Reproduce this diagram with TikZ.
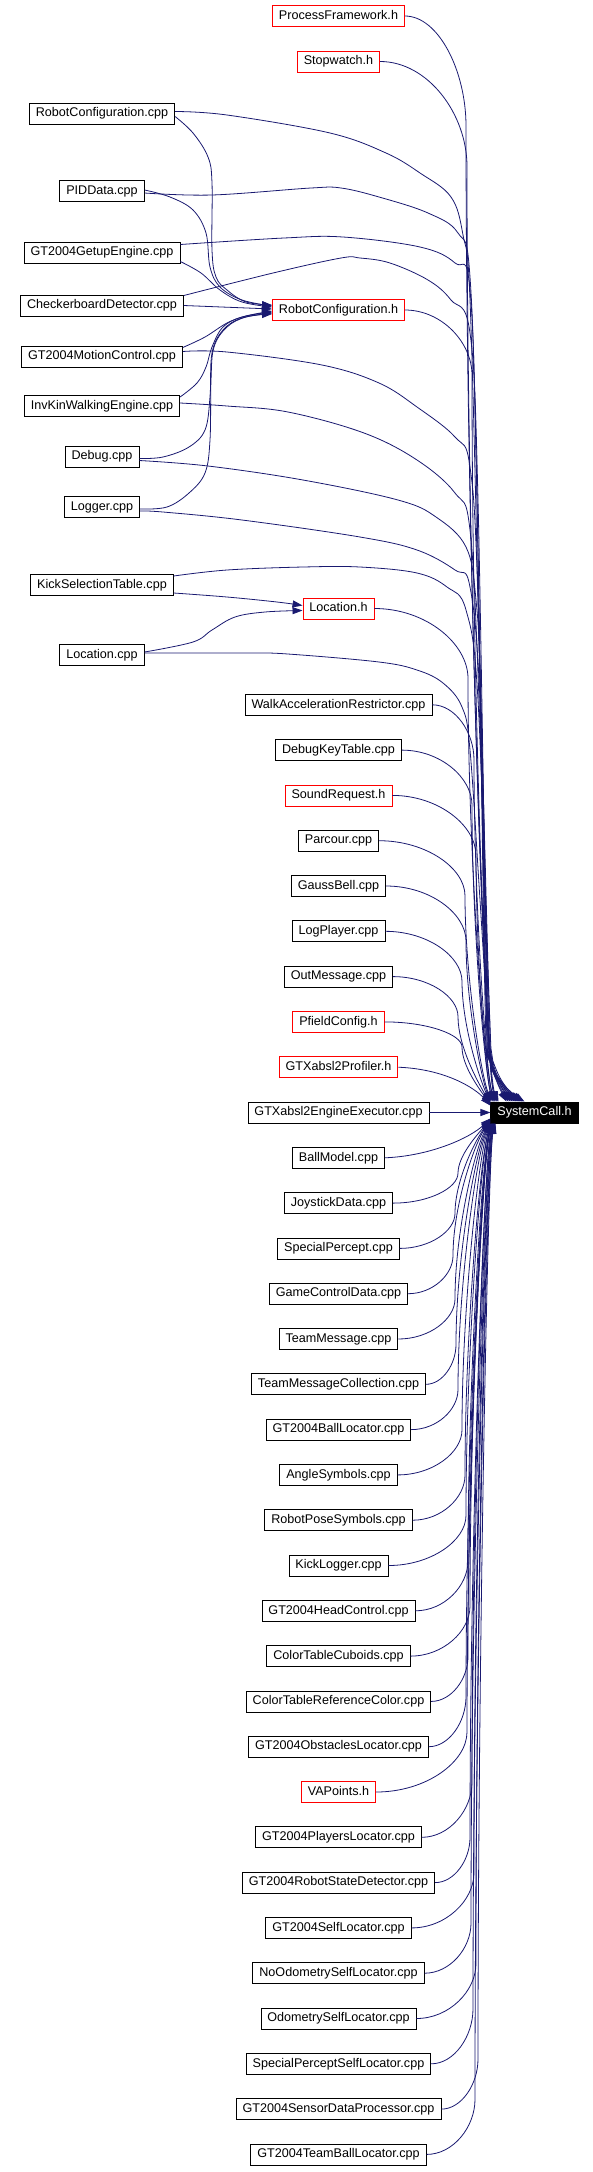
\documentclass[tikz,border=0pt]{standalone}
\usepackage{fontspec}
\setmainfont{Liberation Sans}
\usetikzlibrary{arrows.meta,calc}
\definecolor{mblue}{HTML}{191970}
\newcommand\dedge[5]{%
  \draw[dep] let \p1=(#1.east), \p2=(#2) in
  (\p1) .. controls ({\x1+0.55*(#3-\x1)},\y1) and (#3,{\y1-0.5*#4}) .. (#3,{\y1-#4})
  .. controls (#3,{\y1-#4-0.45*(\y1-#4-(\y2)-#5)}) and ({\x2-0.4*(\x2-#3)},{\y2+#5}) .. (\p2);}
\newcommand\uedge[5]{%
  \draw[dep] let \p1=(#1.east), \p2=(#2) in
  (\p1) .. controls ({\x1+0.55*(#3-\x1)},\y1) and (#3,{\y1+0.5*#4}) .. (#3,{\y1+#4})
  .. controls (#3,{\y1+#4+0.45*((\y2)-#5-(\y1)-#4)}) and ({\x2-0.4*(\x2-#3)},{\y2-#5}) .. (\p2);}
\begin{document}
\begin{tikzpicture}[x=1pt,y=1pt,
  dep/.style={draw=mblue, line width=0.8pt, -{Triangle[length=10pt,width=7pt]}},
  nd/.style={draw=black, fill=white, line width=0.8pt, inner xsep=6.5pt, inner ysep=0pt,
    minimum height=21pt, text height=9.1pt, text depth=2.6pt, font=\fontsize{12.6}{14}\selectfont},
  hd/.style={nd, draw=red}]
\useasboundingbox (0,0) rectangle (593,-2172);
% rank 0
\node[nd] (rcpp) at (102,-113.5) {RobotConfiguration.cpp};
\node[nd] (pid) at (102,-191) {PIDData.cpp};
\node[nd] (getup) at (102,-252.5) {GT2004GetupEngine.cpp};
\node[nd] (cb) at (102,-305.5) {CheckerboardDetector.cpp};
\node[nd] (mc) at (102,-356.5) {GT2004MotionControl.cpp};
\node[nd] (ik) at (102,-406) {InvKinWalkingEngine.cpp};
\node[nd] (dbg) at (102,-456.5) {Debug.cpp};
\node[nd] (lg) at (102,-507) {Logger.cpp};
\node[nd] (kick) at (102,-585) {KickSelectionTable.cpp};
\node[nd] (lcpp) at (102,-655) {Location.cpp};
% rank 1
\node[hd] (pf) at (338.5,-16) {ProcessFramework.h};
\node[hd] (sw) at (338.5,-61.5) {Stopwatch.h};
\node[hd] (rch) at (338.5,-310) {RobotConfiguration.h};
\node[hd] (lh) at (338.5,-608.5) {Location.h};
\node[nd] (war) at (338.5,-704.8) {WalkAccelerationRestrictor.cpp};
\node[nd] (dkt) at (338.5,-750.1) {DebugKeyTable.cpp};
\node[hd] (sr) at (338.5,-795.4) {SoundRequest.h};
\node[nd] (par) at (338.5,-840.7) {Parcour.cpp};
\node[nd] (gb) at (338.5,-886.0) {GaussBell.cpp};
\node[nd] (lp) at (338.5,-931.3) {LogPlayer.cpp};
\node[nd] (om) at (338.5,-976.6) {OutMessage.cpp};
\node[hd] (pfc) at (338.5,-1021.9) {PfieldConfig.h};
\node[hd] (prof) at (338.5,-1067.2) {GTXabsl2Profiler.h};
\node[nd] (exec) at (338.5,-1112.5) {GTXabsl2EngineExecutor.cpp};
\node[nd] (bm) at (338.5,-1157.8) {BallModel.cpp};
\node[nd] (jd) at (338.5,-1203.1) {JoystickData.cpp};
\node[nd] (sp) at (338.5,-1248.4) {SpecialPercept.cpp};
\node[nd] (gcd) at (338.5,-1293.7) {GameControlData.cpp};
\node[nd] (tm) at (338.5,-1339.0) {TeamMessage.cpp};
\node[nd] (tmc) at (338.5,-1384.3) {TeamMessageCollection.cpp};
\node[nd] (gbl) at (338.5,-1429.6) {GT2004BallLocator.cpp};
\node[nd] (angs) at (338.5,-1474.9) {AngleSymbols.cpp};
\node[nd] (rps) at (338.5,-1520.2) {RobotPoseSymbols.cpp};
\node[nd] (kl) at (338.5,-1565.5) {KickLogger.cpp};
\node[nd] (ghc) at (338.5,-1610.8) {GT2004HeadControl.cpp};
\node[nd] (ctc) at (338.5,-1656.1) {ColorTableCuboids.cpp};
\node[nd] (ctr) at (338.5,-1701.4) {ColorTableReferenceColor.cpp};
\node[nd] (gol) at (338.5,-1746.7) {GT2004ObstaclesLocator.cpp};
\node[hd] (vap) at (338.5,-1792.0) {VAPoints.h};
\node[nd] (gpl) at (338.5,-1837.3) {GT2004PlayersLocator.cpp};
\node[nd] (grs) at (338.5,-1882.6) {GT2004RobotStateDetector.cpp};
\node[nd] (gsl) at (338.5,-1927.9) {GT2004SelfLocator.cpp};
\node[nd] (nos) at (338.5,-1973.2) {NoOdometrySelfLocator.cpp};
\node[nd] (osl) at (338.5,-2018.5) {OdometrySelfLocator.cpp};
\node[nd] (spsl) at (338.5,-2063.8) {SpecialPerceptSelfLocator.cpp};
\node[nd] (gsdp) at (338.5,-2109.1) {GT2004SensorDataProcessor.cpp};
\node[nd] (gtbl) at (338.5,-2154.4) {GT2004TeamBallLocator.cpp};
% rank 2
\node[nd, fill=black, text=white] (sc) at (534.5,-1112.5) {SystemCall.h};

% rank 0 -> RobotConfiguration.h
\draw[dep] plot[smooth,tension=0.6] coordinates {([yshift=-3pt]rcpp.east) (193,-133) (208,-157) (212,-183) (212,-250) (216,-277) (227,-290) (246,-302) ([yshift=5pt]rch.west)};
\draw[dep] plot[smooth,tension=0.6] coordinates {([yshift=1pt]pid.east) (170,-197) (193,-210) (206,-233) (210,-267) (220,-287) (242,-300) ([yshift=4pt]rch.west)};
\draw[dep] plot[smooth,tension=0.6] coordinates {([yshift=-9pt]getup.east) (201,-273) (220,-290) (242,-302) ([yshift=3pt]rch.west)};
\draw[dep] (cb.east) -- ([yshift=1pt]rch.west);
\draw[dep] plot[smooth,tension=0.6] coordinates {([yshift=9pt]mc.east) (205,-337) (227,-323) (246,-316) ([yshift=-1pt]rch.west)};
\draw[dep] plot[smooth,tension=0.6] coordinates {([yshift=9pt]ik.east) (197,-383) (206,-367) (212,-347) (223,-327) (242,-317) ([yshift=-2pt]rch.west)};
\draw[dep] plot[smooth,tension=0.6] coordinates {([yshift=-2pt]dbg.east) (163,-457) (189,-447) (205,-430) (210,-397) (212,-353) (223,-330) (242,-318) ([yshift=-3pt]rch.west)};
\draw[dep] plot[smooth,tension=0.6] coordinates {([yshift=-2pt]lg.east) (167,-507) (189,-493) (205,-473) (210,-440) (211,-380) (214,-347) (227,-327) (246,-317) ([yshift=-4pt]rch.west)};
% rank 0 -> Location.h
\draw[dep] plot[smooth,tension=0.6] coordinates {([yshift=-8pt]kick.east) (227,-597) (277,-602) ([yshift=3pt]lh.west)};
\draw[dep] plot[smooth,tension=0.6] coordinates {([yshift=3pt]lcpp.east) (193,-642) (212,-630) (235,-617) (265,-612) ([yshift=-2pt]lh.west)};
% rank 0 -> SystemCall.h
\draw[dep] plot[smooth,tension=0.6] coordinates {([yshift=2pt]rcpp.east) (227,-115) (330,-133) (386,-153) (420,-173) (451,-197) (463,-235) (470,-300) (478,-600) (486,-1000) (489,-1055) (497,-1082) ([xshift=16pt]sc.north west)};
\draw[dep] plot[smooth,tension=0.6] coordinates {([yshift=-2pt]pid.east) (212,-195) (311,-188) (341,-188) (379,-197) (428,-213) (458,-233) (470,-277) (477,-500) (485,-1000) (489,-1057) (498,-1083) ([xshift=18pt]sc.north west)};
\draw[dep] plot[smooth,tension=0.6] coordinates {([yshift=8pt]getup.east) (284,-238) (343,-237) (420,-247) (455,-263) (470,-290) (477,-500) (486,-1000) (490,-1058) (499,-1083) ([xshift=20pt]sc.north west)};
\draw[dep] plot[smooth,tension=0.6] coordinates {([yshift=10pt]cb.east) (273,-273) (341,-258) (360,-258) (390,-263) (428,-280) (451,-300) (470,-333) (478,-500) (487,-1000) (490,-1059) (500,-1084) ([xshift=22pt]sc.north west)};
\draw[dep] plot[smooth,tension=0.6] coordinates {([yshift=5pt]mc.east) (227,-352) (322,-365) (379,-383) (417,-407) (455,-437) (470,-467) (478,-600) (487,-1000) (491,-1060) (501,-1084) ([xshift=24pt]sc.north west)};
\draw[dep] plot[smooth,tension=0.6] coordinates {([yshift=3pt]ik.east) (227,-406) (288,-412) (364,-433) (417,-460) (455,-493) (470,-530) (479,-700) (488,-1000) (491,-1060) (502,-1085) ([xshift=26pt]sc.north west)};
\draw[dep] plot[smooth,tension=0.6] coordinates {([yshift=-4pt]dbg.east) (208,-466) (303,-480) (398,-500) (436,-517) (466,-547) (476,-600) (481,-700) (488,-1000) (492,-1061) (503,-1085) ([xshift=28pt]sc.north west)};
\draw[dep] plot[smooth,tension=0.6] coordinates {([yshift=-4pt]lg.east) (163,-512) (242,-520) (360,-537) (417,-550) (455,-570) (470,-587) (480,-700) (489,-1000) (492,-1062) (504,-1086) ([xshift=30pt]sc.north west)};
\draw[dep] plot[smooth,tension=0.6] coordinates {([yshift=9pt]kick.east) (227,-570) (303,-567) (360,-567) (417,-573) (447,-587) (466,-610) (478,-700) (489,-1000) (493,-1062) (505,-1086) ([xshift=32pt]sc.north west)};
\draw[dep] plot[smooth,tension=0.6] coordinates {([yshift=2pt]lcpp.east) (182,-653) (250,-653) (288,-654) (379,-662) (417,-670) (443,-683) (462,-707) (470,-750) (480,-900) (489,-1040) (494,-1064) (506,-1087) ([xshift=34pt]sc.north west)};
% rank 1 above -> SystemCall.h
\dedge{pf}{[xshift=8pt]sc.north west}{466}{110}{30}
\dedge{sw}{[xshift=7pt]sc.north west}{467}{105}{30}
\dedge{rch}{[xshift=6pt]sc.north west}{472}{65}{30}
\dedge{lh}{[xshift=5pt]sc.north west}{468}{70}{30}
\dedge{war}{[xshift=4pt]sc.north west}{474}{55}{28}
\dedge{dkt}{[xshift=3pt]sc.north west}{472}{55}{28}
\dedge{sr}{[xshift=2pt]sc.north west}{476}{60}{28}
\dedge{par}{[xshift=1pt]sc.north west}{465}{55}{28}
\dedge{gb}{sc.north west}{466}{55}{26}
\dedge{lp}{[yshift=-1pt]sc.north west}{462}{50}{25}
\dedge{om}{[yshift=-2pt]sc.north west}{458}{40}{22}
\dedge{pfc}{[yshift=-3pt]sc.north west}{462}{25}{16}
\draw[dep] (prof.east) .. controls (445,-1069) and (475,-1088) .. ([yshift=-4pt]sc.north west);
\draw[dep] (exec.east) -- (sc.west);
% rank 1 below -> SystemCall.h
\draw[dep] (bm.east) .. controls (430,-1156) and (470,-1138) .. ([yshift=5pt]sc.south west);
\uedge{jd}{[yshift=4pt]sc.south west}{458}{30}{15}
\uedge{sp}{[yshift=3pt]sc.south west}{455}{35}{18}
\uedge{gcd}{[yshift=2pt]sc.south west}{453}{38}{20}
\uedge{tm}{[yshift=1pt]sc.south west}{455}{40}{22}
\uedge{tmc}{sc.south west}{456}{40}{24}
\uedge{gbl}{[xshift=0.5pt]sc.south west}{458}{40}{25}
\uedge{angs}{[xshift=1pt]sc.south west}{462}{45}{25}
\uedge{rps}{[xshift=1.5pt]sc.south west}{465}{45}{26}
\uedge{kl}{[xshift=1.5pt]sc.south west}{466}{50}{26}
\uedge{ghc}{[xshift=2pt]sc.south west}{468}{50}{27}
\uedge{ctc}{[xshift=2pt]sc.south west}{470}{50}{27}
\uedge{ctr}{[xshift=2.5pt]sc.south west}{468}{45}{28}
\uedge{gol}{[xshift=2.5pt]sc.south west}{466}{50}{28}
\uedge{vap}{[xshift=3pt]sc.south west}{467}{60}{28}
\uedge{gpl}{[xshift=3pt]sc.south west}{472}{55}{29}
\uedge{grs}{[xshift=3.5pt]sc.south west}{470}{45}{29}
\uedge{gsl}{[xshift=3.5pt]sc.south west}{474}{55}{30}
\uedge{nos}{[xshift=4pt]sc.south west}{471}{50}{30}
\uedge{osl}{[xshift=4pt]sc.south west}{476}{55}{30}
\uedge{spsl}{[xshift=4.5pt]sc.south west}{473}{55}{30}
\uedge{gsdp}{[xshift=4.5pt]sc.south west}{478}{50}{30}
\uedge{gtbl}{[xshift=5pt]sc.south west}{475}{55}{30}
\end{tikzpicture}
\end{document}
